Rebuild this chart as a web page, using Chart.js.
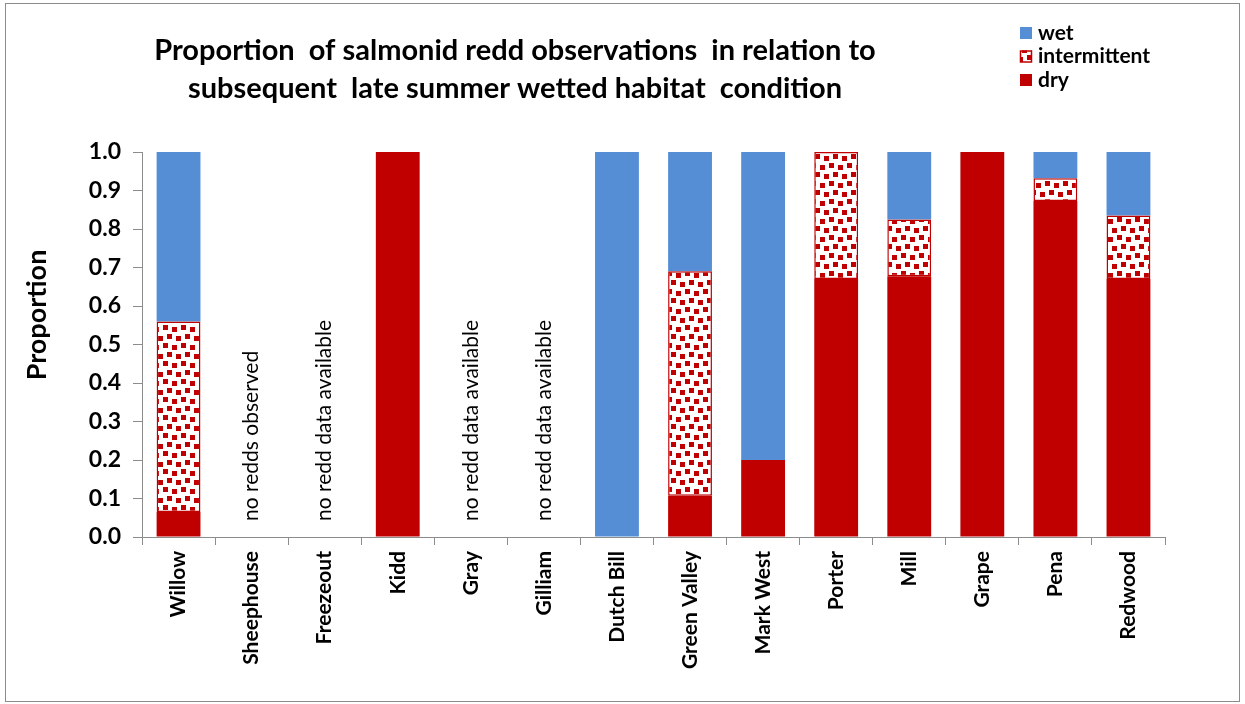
<!DOCTYPE html>
<html><head><meta charset="utf-8">
<script src="https://cdn.jsdelivr.net/npm/chart.js@4/dist/chart.umd.min.js"></script>
<style>
html,body{margin:0;padding:0;background:#fff;}
#wrap{position:relative;width:1245px;height:704px;}
canvas{display:block;}
</style></head>
<body><div id="wrap"><canvas id="c" width="1245" height="704"></canvas></div>
<script>
const categories = ['Willow','Sheephouse','Freezeout','Kidd','Gray','Gilliam','Dutch Bill','Green Valley','Mark West','Porter','Mill','Grape','Pena','Redwood'];
const dry          = [0.065, null, null, 1.0, null, null, 0,   0.107, 0.20, 0.67, 0.677, 1.0, 0.873, 0.67];
const intermittent = [0.495, null, null, 0,   null, null, 0,   0.583, 0,    0.33, 0.148, 0,   0.059, 0.165];
const wet          = [0.44,  null, null, 0,   null, null, 1.0, 0.31,  0.80, 0,    0.175, 0,   0.068, 0.165];
const notes = ['', 'no redds observed', 'no redd data available', '', 'no redd data available', 'no redd data available', '', '', '', '', '', '', '', ''];
const yTicks = [0,0.1,0.2,0.3,0.4,0.5,0.6,0.7,0.8,0.9,1.0];
const titleLines = ['Proportion  of salmonid redd observations  in relation to', 'subsequent  late summer wetted habitat  condition'];

const RED = '#C00000', BLUE = '#558ED5', FONT = 'Lato, "Open Sans", sans-serif';

function makePattern(){
  const N = 18;
  const p = document.createElement('canvas'); p.width = N; p.height = N;
  const g = p.getContext('2d');
  g.fillStyle = '#fff'; g.fillRect(0,0,N,N);
  g.fillStyle = RED;
  [[1,1],[10,3],[5,10],[14,12]].forEach(([x,y])=>{
    for (const dx of [0,-N]) for (const dy of [0,-N]) g.fillRect(x+dx,y+dy,5,5);
  });
  return g.createPattern(p,'repeat');
}
const ctx0 = document.getElementById('c').getContext('2d');
const pattern = makePattern();

const deco = {
  id:'deco',
  beforeDraw(chart){
    const c = chart.ctx;
    c.save(); c.fillStyle='#fff'; c.fillRect(0,0,chart.width,chart.height); c.restore();
  },
  afterDraw(chart){
    const c = chart.ctx;
    c.save();
    c.strokeStyle = '#8c8c8c'; c.lineWidth = 1;
    c.strokeRect(5.5,3.5,1234,698);
    c.fillStyle = '#000'; c.font = 'bold 29px ' + FONT;
    c.textAlign = 'center'; c.textBaseline = 'middle';
    c.fillText(titleLines[0], 515, 51);
    c.fillText(titleLines[1], 515, 89);
    c.save(); c.translate(37, 315); c.rotate(-Math.PI/2);
    c.font = 'bold 27px ' + FONT; c.fillText('Proportion', 0, 0); c.restore();
    const items = [['wet', BLUE], ['intermittent', pattern], ['dry', RED]];
    c.font = 'bold 21px ' + FONT; c.textAlign = 'left';
    items.forEach(([lab, col], i) => {
      const y = 33 + i*23.5;
      c.fillStyle = col; c.fillRect(1020, y-6, 12, 12);
      if (col === pattern){ c.strokeStyle = RED; c.lineWidth = 1.5; c.strokeRect(1020.5, y-5.5, 11, 11); }
      c.fillStyle = '#000'; c.fillText(lab, 1038, y);
    });
    const xs = chart.scales.x, ys = chart.scales.y;
    c.font = '21px ' + FONT; c.textBaseline = 'middle'; c.textAlign = 'left';
    notes.forEach((t, i) => {
      if (!t) return;
      c.save(); c.translate(xs.getPixelForValue(i), ys.getPixelForValue(0) - 16);
      c.rotate(-Math.PI/2); c.fillStyle = '#000'; c.fillText(t, 0, 0); c.restore();
    });
    c.restore();
  }
};

new Chart(ctx0, {
  type: 'bar',
  data: {
    labels: categories,
    datasets: [
      {label:'dry', data: dry, backgroundColor: RED, borderWidth: 0, categoryPercentage: 0.6, barPercentage: 1.0},
      {label:'intermittent', data: intermittent, backgroundColor: pattern, borderColor: RED, borderWidth: 1.5, borderSkipped: false, categoryPercentage: 0.6, barPercentage: 1.0},
      {label:'wet', data: wet, backgroundColor: BLUE, borderWidth: 0, categoryPercentage: 0.6, barPercentage: 1.0}
    ]
  },
  options: {
    responsive: false, animation: false,
    layout: {padding: {top: 152, right: 80, bottom: 0, left: 0}},
    plugins: {legend: {display: false}, title: {display: false}, tooltip: {enabled: false}},
    scales: {
      x: {
        stacked: true,
        grid: {display: true, drawOnChartArea: false, drawTicks: true, tickLength: 8, color: '#8c8c8c', offset: true},
        border: {color: '#8c8c8c'},
        ticks: {color: '#000', font: {family: FONT, weight: 'bold', size: 21}, minRotation: 90, maxRotation: 90, padding: 6, autoSkip: false},
        afterFit(s){ s.height = 167; }
      },
      y: {
        stacked: true, min: 0, max: 1.0,
        afterBuildTicks(s){ s.ticks = yTicks.map(v => ({value: v})); },
        grid: {display: true, drawOnChartArea: false, drawTicks: true, tickLength: 9, color: '#8c8c8c'},
        border: {color: '#8c8c8c'},
        ticks: {color: '#000', font: {family: FONT, weight: 'bold', size: 23}, padding: 12, callback: v => v.toFixed(1)},
        afterFit(s){ s.width = 142; }
      }
    }
  },
  plugins: [deco]
});
</script></body></html>
